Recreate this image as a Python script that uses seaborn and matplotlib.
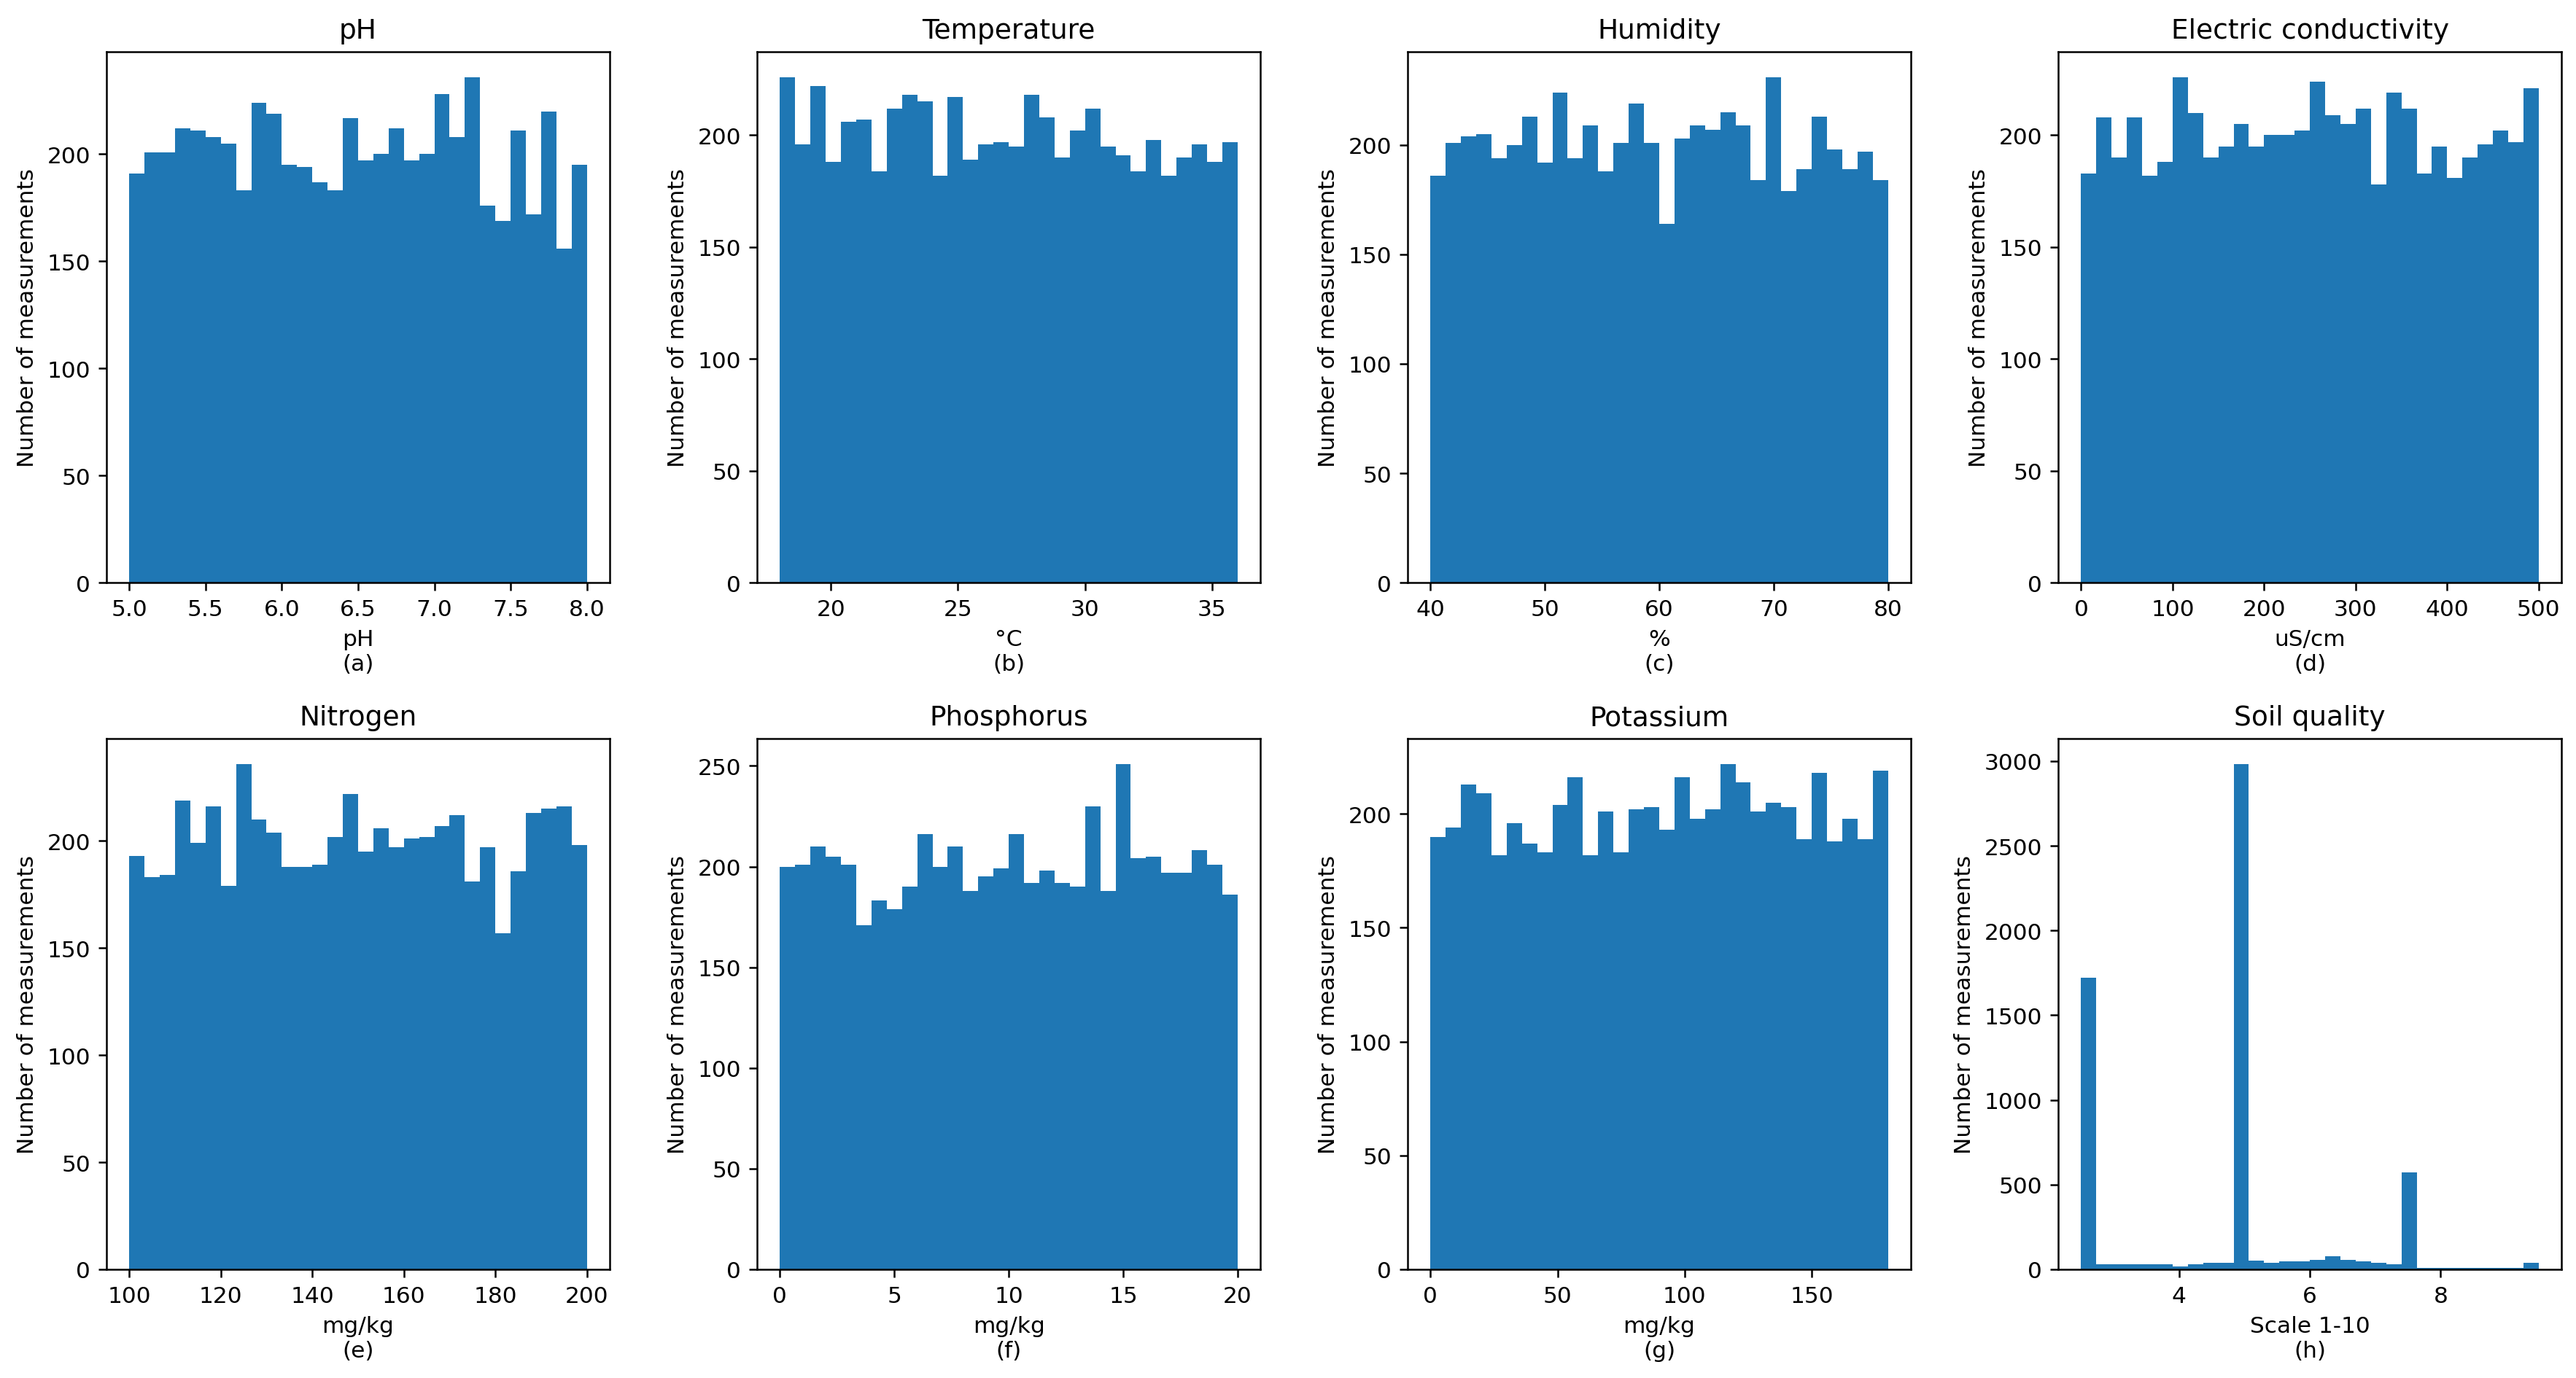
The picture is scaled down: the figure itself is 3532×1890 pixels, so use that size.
import numpy as np
import pandas as pd
import matplotlib
matplotlib.use("Agg")
import matplotlib.pyplot as plt
import seaborn as sns

# counts per bin (30 equal bins each)
ph_counts = [191, 201, 201, 212, 211, 208, 205, 183, 224, 219,
             195, 194, 187, 183, 217, 197, 200, 212, 197, 200,
             228, 208, 236, 176, 169, 211, 172, 220, 156, 195]
temp_counts = [226, 196, 222, 188, 206, 207, 184, 212, 218, 215,
               182, 217, 189, 196, 197, 195, 218, 208, 190, 202,
               212, 195, 191, 184, 198, 182, 190, 196, 188, 197]
hum_counts = [186, 201, 204, 205, 194, 200, 213, 192, 224, 194,
              209, 188, 201, 219, 201, 164, 203, 209, 207, 215,
              209, 184, 231, 179, 189, 213, 198, 189, 197, 184]
ec_counts = [183, 208, 190, 208, 182, 188, 226, 210, 190, 195,
             205, 195, 200, 200, 202, 224, 209, 205, 212, 178,
             219, 212, 183, 195, 181, 190, 196, 202, 197, 221]
n_counts = [193, 183, 184, 219, 199, 216, 179, 236, 210, 204,
            188, 188, 189, 202, 222, 195, 206, 197, 201, 202,
            207, 212, 181, 197, 157, 186, 213, 215, 216, 198]
p_counts = [200, 201, 210, 205, 201, 171, 183, 179, 190, 216,
            200, 210, 188, 195, 199, 216, 192, 198, 192, 190,
            230, 188, 251, 204, 205, 197, 197, 208, 201, 186]
k_counts = [190, 194, 213, 209, 182, 196, 187, 183, 204, 216,
            182, 201, 183, 202, 203, 193, 216, 198, 202, 222,
            214, 201, 205, 203, 189, 218, 188, 198, 189, 219]
soil_counts = [1720, 29, 29, 28, 28, 28, 18, 29, 39, 39,
               2984, 50, 40, 48, 48, 57, 78, 57, 48, 40,
               29, 572, 8, 8, 8, 8, 8, 8, 8, 40]

# value ranges of each variable
ranges = [(5.0, 8.0), (18.0, 36.0), (40.0, 80.0), (0.0, 500.0),
          (100.0, 200.0), (0.0, 20.0), (0.0, 180.0), (2.5, 9.5)]
titles = ["pH", "Temperature", "Humidity", "Electric conductivity",
          "Nitrogen", "Phosphorus", "Potassium", "Soil quality"]
units = ["pH", "°C", "%", "uS/cm", "mg/kg", "mg/kg", "mg/kg", "Scale 1-10"]
letters = ["(a)", "(b)", "(c)", "(d)", "(e)", "(f)", "(g)", "(h)"]
all_counts = [ph_counts, temp_counts, hum_counts, ec_counts,
              n_counts, p_counts, k_counts, soil_counts]

fig = plt.figure(figsize=(3532 / 225, 1891 / 225), dpi=225)

lefts = [0.0413, 0.2939, 0.5464, 0.7990]
bottoms = [0.5769, 0.0788]
w, h = 0.1954, 0.385

for i, (title, unit, letter, counts, (lo, hi)) in enumerate(
        zip(titles, units, letters, all_counts, ranges)):
    ax = fig.add_axes([lefts[i % 4], bottoms[i // 4], w, h])
    nb = len(counts)
    step = (hi - lo) / nb
    centers = lo + step * (np.arange(nb) + 0.5)
    df = pd.DataFrame({"value": centers, "count": counts})
    sns.histplot(data=df, x="value", weights="count", bins=nb,
                 binrange=(lo, hi), ax=ax,
                 color="#1f77b4", alpha=1, linewidth=0)
    ax.set_title(title)
    ax.set_xlabel(unit + "\n" + letter)
    ax.set_ylabel("Number of measurements")

fig.savefig("out.png", dpi=225)
